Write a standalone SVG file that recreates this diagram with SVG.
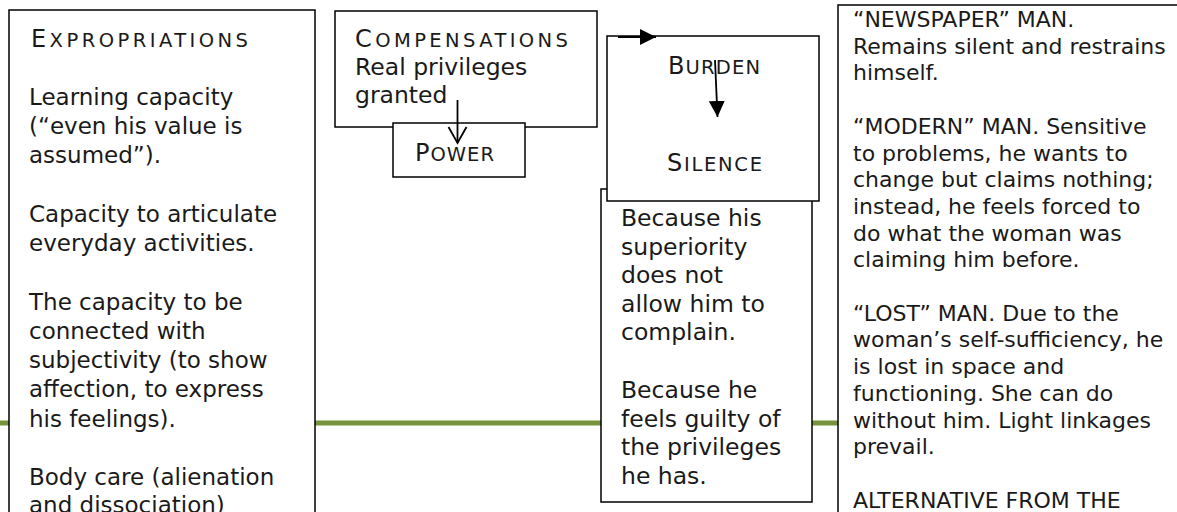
<svg xmlns="http://www.w3.org/2000/svg" width="1177" height="512" viewBox="0 0 1177 512">
<style>
  .box { fill: #ffffff; stroke: #000000; stroke-width: 1.5; }
  .t { font-family: "DejaVu Sans", Verdana, sans-serif; fill: #1a1a1a; }
  .f23 { font-size: 23px; }
  .f235 { font-size: 23.5px; }
  .f22 { font-size: 22px; }
  .sc { font-size: 19.5px; }
  .cap { font-size: 24px; }
  .conn { stroke: #000000; stroke-width: 1.8; fill: none; }
  .green { stroke: #77933C; stroke-width: 5; }
</style>
<defs>
  <marker id="tri" markerUnits="userSpaceOnUse" markerWidth="18" markerHeight="18" viewBox="0 0 18 18" refX="16" refY="9" orient="auto">
    <path d="M0,1 L16,9 L0,17 Z" fill="#000000"/>
  </marker>
  <marker id="vee" markerUnits="userSpaceOnUse" markerWidth="22" markerHeight="22" viewBox="0 0 22 22" refX="17" refY="11" orient="auto">
    <path d="M1,2 L17,11 L1,20" fill="none" stroke="#000000" stroke-width="1.8"/>
  </marker>
</defs>
<rect width="1177" height="512" fill="#ffffff"/>

<line class="green" x1="0" y1="423" x2="840" y2="423"/>

<g id="expropriations">
  <rect class="box" x="9" y="10" width="306" height="530"/>
  <text class="t f23" x="31" y="47" textLength="217" lengthAdjust="spacing"><tspan class="cap">E</tspan><tspan class="sc">XPROPRIATIONS</tspan></text>
  <text class="t f23" x="29" y="105">Learning capacity</text>
  <text class="t f23" x="29" y="134">(“even his value is</text>
  <text class="t f23" x="29" y="163">assumed”).</text>
  <text class="t f23" x="29" y="222">Capacity to articulate</text>
  <text class="t f23" x="29" y="251">everyday activities.</text>
  <text class="t f23" x="29" y="310">The capacity to be</text>
  <text class="t f23" x="29" y="339">connected with</text>
  <text class="t f23" x="29" y="368">subjectivity (to show</text>
  <text class="t f23" x="29" y="397">affection, to express</text>
  <text class="t f23" x="29" y="427">his feelings).</text>
  <text class="t f23" x="29" y="485">Body care (alienation</text>
  <text class="t f23" x="29" y="513">and dissociation)</text>
</g>

<g id="compensations">
  <rect class="box" x="335" y="11" width="262" height="116"/>
  <text class="t f235" x="355" y="47" textLength="213" lengthAdjust="spacing"><tspan class="cap">C</tspan><tspan class="sc">OMPENSATIONS</tspan></text>
  <text class="t f235" x="355" y="75">Real privileges</text>
  <text class="t f235" x="355" y="103">granted</text>
</g>

<g id="power">
  <rect class="box" x="393" y="123" width="132" height="54"/>
  <text class="t" x="415" y="161" textLength="79" lengthAdjust="spacing"><tspan class="cap">P</tspan><tspan class="sc">OWER</tspan></text>
</g>

<g id="reasons">
  <rect class="box" x="601" y="189" width="211" height="313"/>
  <text class="t f235" x="621" y="226">Because his</text>
  <text class="t f235" x="621" y="254.5">superiority</text>
  <text class="t f235" x="621" y="283">does not</text>
  <text class="t f235" x="621" y="311.5">allow him to</text>
  <text class="t f235" x="621" y="340">complain.</text>
  <text class="t f235" x="621" y="398">Because he</text>
  <text class="t f235" x="621" y="426.5">feels guilty of</text>
  <text class="t f235" x="621" y="455">the privileges</text>
  <text class="t f235" x="621" y="483.5">he has.</text>
</g>

<g id="burden-silence">
  <rect class="box" x="607" y="36" width="212" height="165"/>
  <text class="t" x="668" y="74" textLength="92" lengthAdjust="spacing"><tspan class="cap">B</tspan><tspan class="sc">URDEN</tspan></text>
  <text class="t" x="667" y="171" textLength="95" lengthAdjust="spacing"><tspan class="cap">S</tspan><tspan class="sc">ILENCE</tspan></text>
</g>

<g id="men-types">
  <rect class="box" x="838" y="5" width="360" height="530"/>
  <text class="t f22" x="853" y="27">“NEWSPAPER” MAN.</text>
  <text class="t f22" x="853" y="53.7">Remains silent and restrains</text>
  <text class="t f22" x="853" y="80.4">himself.</text>
  <text class="t f22" x="853" y="133.8">“MODERN” MAN. Sensitive</text>
  <text class="t f22" x="853" y="160.5">to problems, he wants to</text>
  <text class="t f22" x="853" y="187.2">change but claims nothing;</text>
  <text class="t f22" x="853" y="214">instead, he feels forced to</text>
  <text class="t f22" x="853" y="240.6">do what the woman was</text>
  <text class="t f22" x="853" y="267.3">claiming him before.</text>
  <text class="t f22" x="853" y="320.7">“LOST” MAN. Due to the</text>
  <text class="t f22" x="853" y="347.4">woman’s self-sufficiency, he</text>
  <text class="t f22" x="853" y="374.1">is lost in space and</text>
  <text class="t f22" x="853" y="400.8">functioning. She can do</text>
  <text class="t f22" x="853" y="427.5">without him. Light linkages</text>
  <text class="t f22" x="853" y="454.2">prevail.</text>
  <text class="t f22" x="853" y="507.6">ALTERNATIVE FROM THE</text>
</g>

<g id="connectors">
  <line class="conn" x1="457.5" y1="100" x2="457.5" y2="143" marker-end="url(#vee)"/>
  <line class="conn" x1="618" y1="37" x2="656" y2="37" marker-end="url(#tri)"/>
  <line class="conn" x1="715" y1="60" x2="717.5" y2="117" marker-end="url(#tri)"/>
</g>
</svg>
